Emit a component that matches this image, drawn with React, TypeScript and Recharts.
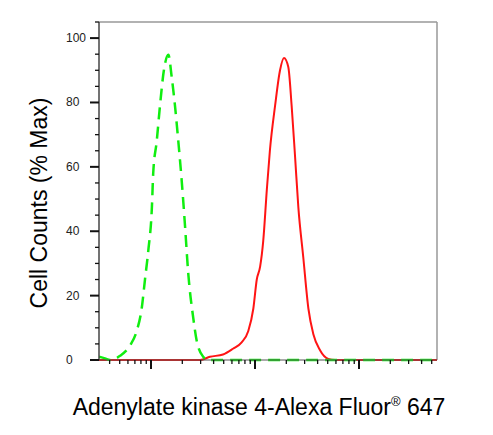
import { LineChart, Line, XAxis, YAxis, ReferenceLine } from 'recharts'

// fluorescence intensity (log axis) and % of max counts
const isotypeFl = [3.16, 3.61, 4.04, 5.04, 6.28, 7.28, 8.14, 8.75, 9.42, 10.2, 10.5, 11.35, 12.2, 13.3, 14.7, 15.8, 17.0, 18.3, 19.7, 21.2, 22.8, 25.5, 27.5, 31.8, 34.5, 5623]
const isotypeCounts = [1, 0.5, 0, 1.3, 4.5, 9, 16, 25, 34, 47.5, 58, 68, 79, 90, 94.8, 88, 79, 68, 56, 42, 27, 13, 6, 1, 0, 0]

const sampleFl = [3.16, 29.6, 36.9, 49.2, 61.4, 74.4, 86.2, 96.4, 104, 112, 120, 130, 139, 156, 174, 190, 209, 225, 243, 261, 291, 326, 364, 422, 507, 588, 5623]
const sampleCounts = [0, 0, 1, 1.7, 3.5, 5.5, 9, 16, 25, 29, 37, 53, 65, 79, 90, 93.8, 91, 79, 63, 47.5, 32, 16, 8, 3, 0.3, 0, 0]

const xTicks = [4, 5, 6, 7, 8, 9, 10, 20, 30, 40, 50, 60, 70, 80, 90, 100, 200, 300, 400, 500, 600, 700, 800, 900, 1000, 2000, 3000, 4000, 5000]
const xMajor = [10, 100, 1000]
const yTicks = [0, 5, 10, 15, 20, 25, 30, 35, 40, 45, 50, 55, 60, 65, 70, 75, 80, 85, 90, 95, 100, 105]
const yLabels = [0, 20, 40, 60, 80, 100]

const isotypeData = isotypeFl.map((fl, i) => ({ fl, count: isotypeCounts[i] }))
const sampleData = sampleFl.map((fl, i) => ({ fl, count: sampleCounts[i] }))

const FONT = '"Liberation Sans", Arial, sans-serif'

function XTick({ x, y, payload }: any) {
  const major = xMajor.includes(payload.value)
  return (
    <line x1={x} x2={x} y1={y} y2={y + (major ? 9 : 4)} stroke="#111" strokeWidth={major ? 2 : 1.3} />
  )
}

function YTick({ x, y, payload }: any) {
  const major = yLabels.includes(payload.value)
  return (
    <g>
      <line x1={x - (major ? 9 : 4)} x2={x} y1={y} y2={y} stroke="#111" strokeWidth={major ? 2 : 1.3} />
      {major && (
        <text x={x - 33} y={y} dy={4} fontSize={12} fontFamily={FONT} fill="#222" textAnchor="start">
          {payload.value}
        </text>
      )}
    </g>
  )
}

export default function App() {
  return (
    <LineChart width={477} height={419} margin={{ top: 14, right: 48, bottom: 0, left: 0 }}>
      <XAxis
        dataKey="fl"
        type="number"
        scale="log"
        domain={[3.162, 5623]}
        allowDataOverflow
        ticks={xTicks}
        interval={0}
        tick={<XTick />}
        tickLine={false}
        tickSize={0}
        tickMargin={0}
        height={67}
        stroke="#555"
        label={{
          content: () => (
            <text x={251} y={407} fontSize={23} fontFamily={FONT} fill="#000" textAnchor="middle">
              Adenylate kinase 4-Alexa Fluor
              <tspan fontSize={13} dy={-9}>®</tspan>
              <tspan dy={9}> 647</tspan>
            </text>
          ),
        }}
      />
      <YAxis
        type="number"
        domain={[0, 105]}
        ticks={yTicks}
        interval={0}
        tick={<YTick />}
        tickLine={false}
        tickSize={0}
        tickMargin={0}
        width={91}
        stroke="#444"
        strokeWidth={1.5}
        label={{
          content: () => (
            <text x={39} y={195} fontSize={23} fontFamily={FONT} fill="#000" textAnchor="middle" transform="rotate(-90, 39, 195)">
              Cell Counts (% Max)
            </text>
          ),
        }}
      />
      <ReferenceLine y={105} stroke="#999" strokeWidth={1.5} />
      <ReferenceLine x={5623} stroke="#999" strokeWidth={1.5} />
      <Line data={sampleData} dataKey="count" type="monotone" stroke="#ff1414" strokeWidth={2} dot={false} isAnimationActive={false} />
      <Line data={isotypeData} dataKey="count" type="monotone" stroke="#10ee10" strokeWidth={2.5} strokeDasharray="12 7" dot={false} isAnimationActive={false} />
    </LineChart>
  )
}
